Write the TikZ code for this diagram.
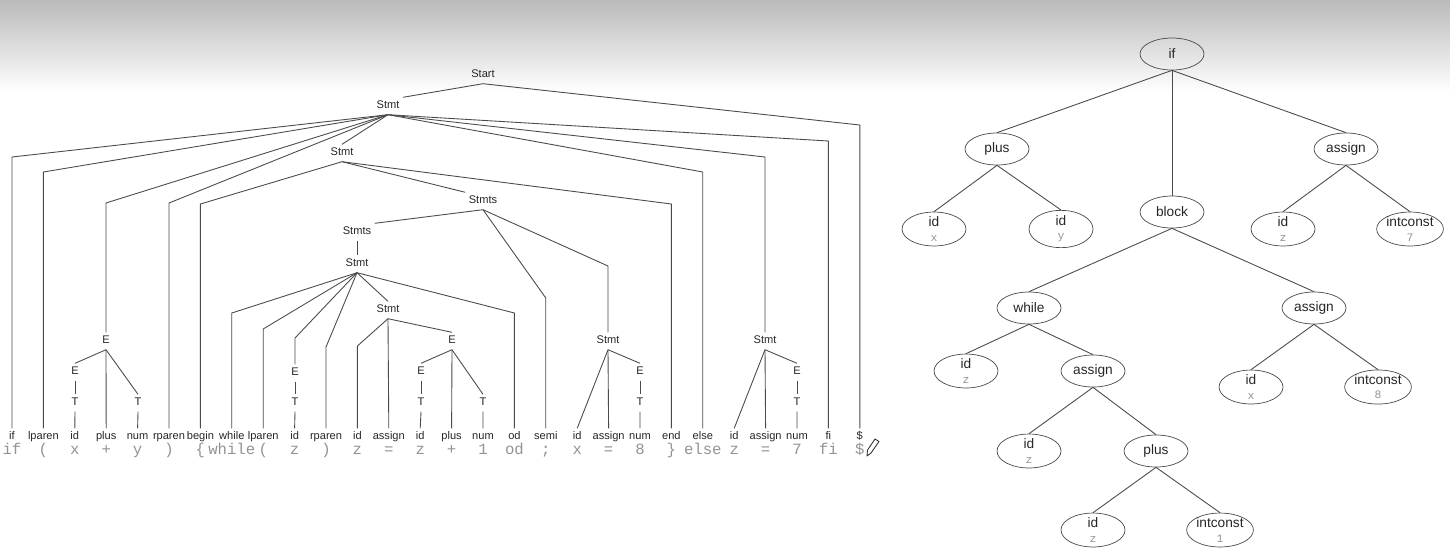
\documentclass[tikz,border=0pt]{standalone}
\usepackage{fontspec}
\setmainfont{Liberation Sans}
\newfontfamily\tokfont{Liberation Mono}
\usetikzlibrary{shapes.geometric}

\definecolor{edgegray}{HTML}{4A4A4A}
\definecolor{tokgray}{HTML}{939393}

\newcommand{\astval}[1]{{\tokfont\fontsize{6.5}{6}\selectfont\textcolor{tokgray}{#1}}}

\tikzset{
	sym/.style={inner sep=1.8pt, text height=4.6pt, text depth=1.3pt,
		font=\fontsize{6.3}{7}\selectfont, text=black!85},
	tok/.style={inner sep=0pt, text height=6pt, text depth=1.7pt,
		font=\tokfont\fontsize{8.9}{9}\selectfont, text=tokgray},
	astnode/.style={draw=edgegray, ellipse, minimum width=1.28cm, minimum height=0.64cm,
		inner sep=0pt, align=center, font=\fontsize{7.8}{8}\selectfont, text=black!85},
}

\begin{document}
\begin{tikzpicture}[x=0.02cm, y=-0.02cm]
	\useasboundingbox (0,0) rectangle (1450,559);
	\shade[top color=black!27, bottom color=white] (0,0) rectangle (1450,92);

	% leaves and tokens
	\begin{scope}
		\foreach \lab/\tok [count=\i from 0] in {if/if, lparen/(, id/x, plus/+, num/y, rparen/), begin/\{, while/while, lparen/(, id/z, rparen/), id/z, assign/=, id/z, plus/+, num/1, od/od, semi/;, id/x, assign/=, num/8, end/\}, else/else, id/z, assign/=, num/7, fi/fi, \$/\$}
		{
			\node[sym] (lf\i) at ({12+31.4*\i},437) {\lab};
			\node[tok] (tk\i) at ({12+31.4*\i},451) {\tok};
		}
	\end{scope}

	% inner symbols
	\begin{scope}
		\node[sym] (start) at (483,75) {Start};
		\node[sym] (s1) at (388,106) {Stmt};
		\node[sym] (s2) at (342,153) {Stmt};
		\node[sym] (ss1) at (483,201) {Stmts};
		\node[sym] (ss2) at (357,232) {Stmts};
		\node[sym] (s3) at (357,264) {Stmt};
		\node[sym] (s4) at (388,310) {Stmt};
		\node[sym] (s5) at (608,341) {Stmt};
		\node[sym] (s6) at (765,341) {Stmt};

		\node[sym] (e1) at (106,341) {E};
		\node[sym] (e1a) at (75,372) {E};
		\node[sym] (t1a) at (75,403) {T};
		\node[sym] (t1b) at (138,403) {T};
		\node[sym] (e2) at (295,373) {E};
		\node[sym] (t2) at (295,403) {T};
		\node[sym] (e3) at (452,341) {E};
		\node[sym] (e3a) at (421,372) {E};
		\node[sym] (t3a) at (421,403) {T};
		\node[sym] (t3b) at (483,403) {T};
		\node[sym] (e5) at (640,372) {E};
		\node[sym] (t5) at (640,403) {T};
		\node[sym] (e6) at (797,372) {E};
		\node[sym] (t6) at (797,403) {T};
	\end{scope}

	% parse tree edges
	\begin{scope}[edgegray, line width=0.5pt]
		\draw (start.south) -- (s1.north east);
		\draw (start.south) -- (lf27 |- 0,125) -- (lf27.north);

		\draw (s1.south) -- (lf0 |- 0,157) -- (lf0.north);
		\draw (s1.south) -- (lf1 |- 0,172) -- (lf1.north);
		\draw (s1.south) -- (e1 |- 0,203) -- (e1.north);
		\draw (s1.south) -- (lf5 |- 0,203) -- (lf5.north);
		\draw (s1.south) -- (s2.north);
		\draw (s1.south) -- (lf22 |- 0,172) -- (lf22.north);
		\draw (s1.south) -- (s6 |- 0,157) -- (s6.north);
		\draw (s1.south) -- (lf26 |- 0,141) -- (lf26.north);

		\draw (s2.south) -- (lf6 |- 0,204) -- (lf6.north);
		\draw (s2.south) -- (ss1.north west);
		\draw (s2.south) -- (lf21 |- 0,204) -- (lf21.north);

		\draw (ss1.south) -- (ss2.north east);
		\draw (ss1.south) -- (lf17 |- 0,298) -- (lf17.north);
		\draw (ss1.south) -- (s5 |- 0,266) -- (s5.north);
		\draw (ss2.south) -- (s3.north);

		\draw (s3.south) -- (lf7 |- 0,313) -- (lf7.north);
		\draw (s3.south) -- (lf8 |- 0,329) -- (lf8.north);
		\draw (s3.south) -- (e2 |- 0,338) -- (e2.north);
		\draw (s3.south) -- (lf10 |- 0,347) -- (lf10.north);
		\draw (s3.south) -- (s4.north);
		\draw (s3.south) -- (lf16 |- 0,313) -- (lf16.north);

		\draw (s4.south) -- (lf11 |- 0,346) -- (lf11.north);
		\draw (s4.south) -- (lf12.north);
		\draw (s4.south) -- (e3.north);

		\draw (s5.south) -- (lf18.north);
		\draw (s5.south) -- (lf19.north);
		\draw (s5.south) -- (e5.north);
		\draw (s6.south) -- (lf23.north);
		\draw (s6.south) -- (lf24.north);
		\draw (s6.south) -- (e6.north);

		\draw (e1.south) -- (e1a.north);
		\draw (e1.south) -- (lf3.north);
		\draw (e1.south) -- (t1b.north);
		\draw (e1a.south) -- (t1a.north);
		\draw (t1a.south) -- (lf2.north);
		\draw (t1b.south) -- (lf4.north);

		\draw (e2.south) -- (t2.north);
		\draw (t2.south) -- (lf9.north);

		\draw (e3.south) -- (e3a.north);
		\draw (e3.south) -- (lf14.north);
		\draw (e3.south) -- (t3b.north);
		\draw (e3a.south) -- (t3a.north);
		\draw (t3a.south) -- (lf13.north);
		\draw (t3b.south) -- (lf15.north);

		\draw (e5.south) -- (t5.north);
		\draw (t5.south) -- (lf20.north);
		\draw (e6.south) -- (t6.north);
		\draw (t6.south) -- (lf25.north);
	\end{scope}

	% pencil mark
	\draw[black!80, line width=0.5pt, line join=round] (867,456) -- (867.5,450) -- (875,439) -- (879,441.5) -- (871,453) -- cycle;

	% abstract syntax tree
	\begin{scope}
		\node[astnode] (aif) at (1172,54) {if};
		\node[astnode] (aplus) at (997,149) {plus};
		\node[astnode] (aassign) at (1346,149) {assign};
		\node[astnode] (aidx) at (934,229) {id\\\astval{x}};
		\node[astnode] (aidy) at (1061,229) {id\\\astval{y}};
		\node[astnode] (ablock) at (1172,212) {block};
		\node[astnode] (aidz) at (1283,229) {id\\\astval{z}};
		\node[astnode] (aint7) at (1410,229) {intconst\\\astval{7}};
		\node[astnode] (awhile) at (1029,308) {while};
		\node[astnode] (aassign8) at (1314,308) {assign};
		\node[astnode] (awid) at (966,371) {id\\\astval{z}};
		\node[astnode] (awassign) at (1093,371) {assign};
		\node[astnode] (aidx8) at (1251,387) {id\\\astval{x}};
		\node[astnode] (aint8) at (1378,387) {intconst\\\astval{8}};
		\node[astnode] (alhs) at (1029,451) {id\\\astval{z}};
		\node[astnode] (aplus1) at (1156,451) {plus};
		\node[astnode] (arhs) at (1093,530) {id\\\astval{z}};
		\node[astnode] (aint1) at (1220,530) {intconst\\\astval{1}};
	\end{scope}

	\begin{scope}[edgegray, line width=0.5pt]
		\draw (aif.south) -- (aplus.north);
		\draw (aif.south) -- (ablock.north);
		\draw (aif.south) -- (aassign.north);
		\draw (aplus.south) -- (aidx.north);
		\draw (aplus.south) -- (aidy.north);
		\draw (aassign.south) -- (aidz.north);
		\draw (aassign.south) -- (aint7.north);
		\draw (ablock.south) -- (awhile.north);
		\draw (ablock.south) -- (aassign8.north);
		\draw (awhile.south) -- (awid.north);
		\draw (awhile.south) -- (awassign.north);
		\draw (awassign.south) -- (alhs.north);
		\draw (awassign.south) -- (aplus1.north);
		\draw (aplus1.south) -- (arhs.north);
		\draw (aplus1.south) -- (aint1.north);
		\draw (aassign8.south) -- (aidx8.north);
		\draw (aassign8.south) -- (aint8.north);
	\end{scope}
\end{tikzpicture}
\end{document}
